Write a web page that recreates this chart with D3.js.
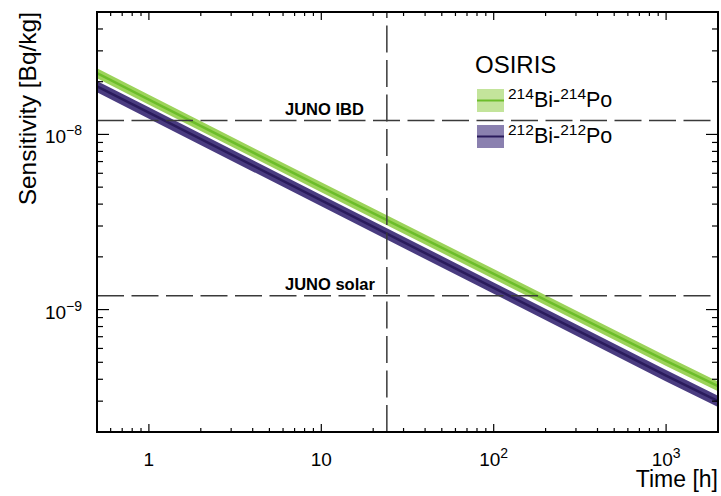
<!DOCTYPE html>
<html>
<head>
<meta charset="utf-8">
<script src="https://cdn.jsdelivr.net/npm/d3@7"></script>
<style>
  body { margin: 0; background: #fff; }
  svg text { font-family: "Liberation Sans", Arial, Helvetica, sans-serif; fill: #000; }
</style>
</head>
<body>
<div id="chart"></div>
<script>
// measuring time in hours, read at a few points along each (straight) log-log line
var times = [0.5, 1, 10, 100, 1000, 2000];
var sensBiPo214 = [2.24e-8, 1.58e-8, 5.0e-9, 1.6e-9, 5.1e-10, 3.65e-10];
var sensBiPo212 = [1.88e-8, 1.33e-8, 4.2e-9, 1.33e-9, 4.2e-10, 3.0e-10];
// half-width of the shaded bands (relative)
var bandRel214 = 0.065;
var bandRel212 = 0.075;

// reference requirement lines
var refLabels = ["JUNO IBD", "JUNO solar"];
var refValues = [1.2e-8, 1.2e-9];
var dayMark = 24;

var xDomain = [0.5, 2000];
var yDomain = [2e-10, 5e-8];

var width = 721, height = 496;
var plot = {left: 97, right: 718, top: 12, bottom: 432};

var svg = d3.select("#chart").append("svg")
    .attr("width", width)
    .attr("height", height);

var x = d3.scaleLog().domain(xDomain).range([plot.left, plot.right]);
var y = d3.scaleLog().domain(yDomain).range([plot.bottom, plot.top]);

function isMajor(v) {
  var l = Math.log10(v);
  return Math.abs(l - Math.round(l)) < 1e-6;
}

// series bands + central lines
var series = [
  {vals: sensBiPo214, rel: bandRel214, fill: "#9cd35a", line: "#6cbd2a"},
  {vals: sensBiPo212, rel: bandRel212, fill: "#4a3c80", line: "#2a1b5c"}
];

var area = d3.area()
    .x(function(d) { return x(d.t); })
    .y0(function(d) { return y(d.lo); })
    .y1(function(d) { return y(d.hi); });
var line = d3.line()
    .x(function(d) { return x(d.t); })
    .y(function(d) { return y(d.v); });

svg.append("clipPath").attr("id", "clip")
  .append("rect")
    .attr("x", plot.left).attr("y", plot.top)
    .attr("width", plot.right - plot.left)
    .attr("height", plot.bottom - plot.top);

var g = svg.append("g").attr("clip-path", "url(#clip)");

series.forEach(function(s) {
  var pts = times.map(function(t, i) {
    return {t: t, v: s.vals[i], lo: s.vals[i] * (1 - s.rel), hi: s.vals[i] * (1 + s.rel)};
  });
  g.append("path").attr("d", area(pts)).attr("fill", s.fill);
  g.append("path").attr("d", line(pts))
    .attr("fill", "none")
    .attr("stroke", s.line)
    .attr("stroke-width", 2.5);
});

// dashed reference lines
refValues.forEach(function(v, i) {
  g.append("line")
    .attr("x1", plot.left).attr("x2", plot.right)
    .attr("y1", y(v)).attr("y2", y(v))
    .attr("stroke", "#3a3a3a")
    .attr("stroke-width", 1.5)
    .attr("stroke-dasharray", "27,7.5");
  svg.append("text")
    .attr("x", 285)
    .attr("y", y(v) - 6)
    .attr("font-size", "16.5px")
    .attr("font-weight", "bold")
    .text(refLabels[i]);
});

g.append("line")
  .attr("x1", x(dayMark)).attr("x2", x(dayMark))
  .attr("y1", plot.bottom).attr("y2", plot.top)
  .attr("stroke", "#3a3a3a")
  .attr("stroke-width", 1.5)
  .attr("stroke-dasharray", "27,7.5");

// ticks on all four sides, pointing inwards
var ticks = svg.append("g").attr("stroke", "#000").attr("stroke-width", 1.2);
x.ticks().forEach(function(t) {
  if (t <= xDomain[0] || t >= xDomain[1]) return;
  var len = isMajor(t) ? 8 : 4;
  ticks.append("line").attr("x1", x(t)).attr("x2", x(t))
    .attr("y1", plot.bottom).attr("y2", plot.bottom - len);
  ticks.append("line").attr("x1", x(t)).attr("x2", x(t))
    .attr("y1", plot.top).attr("y2", plot.top + len);
});
y.ticks().forEach(function(t) {
  if (t <= yDomain[0] * 1.0001 || t >= yDomain[1] * 0.9999) return;
  var len = isMajor(t) ? 12 : 6;
  ticks.append("line").attr("y1", y(t)).attr("y2", y(t))
    .attr("x1", plot.left).attr("x2", plot.left + len);
  ticks.append("line").attr("y1", y(t)).attr("y2", y(t))
    .attr("x1", plot.right).attr("x2", plot.right - len);
});

// frame
svg.append("rect")
  .attr("x", plot.left).attr("y", plot.top)
  .attr("width", plot.right - plot.left)
  .attr("height", plot.bottom - plot.top)
  .attr("fill", "none")
  .attr("stroke", "#000")
  .attr("stroke-width", 2);

// x tick labels
x.ticks().filter(isMajor).forEach(function(t) {
  var e = Math.round(Math.log10(t));
  var txt = svg.append("text")
    .attr("x", x(t))
    .attr("y", 466)
    .attr("text-anchor", "middle")
    .attr("font-size", "19px");
  if (e === 0) txt.text("1");
  else if (e === 1) txt.text("10");
  else {
    txt.append("tspan").text("10");
    txt.append("tspan").attr("font-size", "14px").attr("dy", -8).text(e);
  }
});

// y tick labels
y.ticks().filter(isMajor).forEach(function(t) {
  var e = Math.round(Math.log10(t));
  var txt = svg.append("text")
    .attr("x", 82)
    .attr("y", y(t) + 9)
    .attr("text-anchor", "end")
    .attr("font-size", "19px");
  txt.append("tspan").text("10");
  txt.append("tspan").attr("font-size", "14px").attr("dy", -8).text("\u2212" + (-e));
});

// axis titles
svg.append("text")
  .attr("x", plot.right)
  .attr("y", 487)
  .attr("text-anchor", "end")
  .attr("font-size", "23px")
  .text("Time [h]");

svg.append("text")
  .attr("transform", "translate(36," + plot.top + ") rotate(-90)")
  .attr("text-anchor", "end")
  .attr("font-size", "24.5px")
  .text("Sensitivity [Bq/kg]");

// legend
var legend = svg.append("g");
legend.append("text")
  .attr("x", 475).attr("y", 73)
  .attr("font-size", "24px")
  .text("OSIRIS");

var legendItems = [
  {iso: "214", box: "#c3e49b", line: "#6cbd2a", y: 89},
  {iso: "212", box: "#8a80af", line: "#2a1b5c", y: 125}
];
legendItems.forEach(function(d) {
  legend.append("rect")
    .attr("x", 477).attr("y", d.y)
    .attr("width", 27).attr("height", 23)
    .attr("fill", d.box);
  legend.append("line")
    .attr("x1", 477).attr("x2", 504)
    .attr("y1", d.y + 11.5).attr("y2", d.y + 11.5)
    .attr("stroke", d.line).attr("stroke-width", 2);
  var t = legend.append("text")
    .attr("x", 508).attr("y", d.y + 18)
    .attr("font-size", "21.5px");
  t.append("tspan").attr("font-size", "15.5px").attr("dy", -8).text(d.iso);
  t.append("tspan").attr("dy", 8).text("Bi-");
  t.append("tspan").attr("font-size", "15.5px").attr("dy", -8).text(d.iso);
  t.append("tspan").attr("dy", 8).text("Po");
});
</script>
</body>
</html>
